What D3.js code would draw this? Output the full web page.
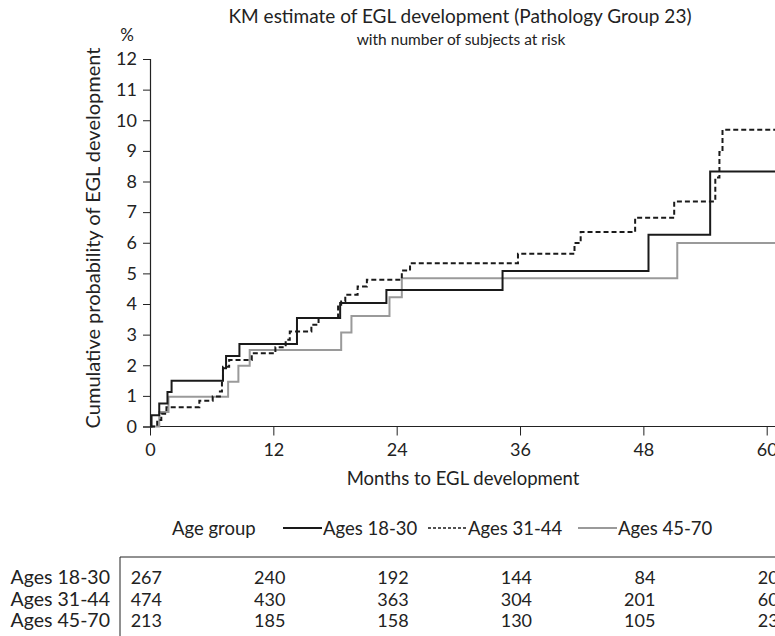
<!DOCTYPE html>
<html>
<head>
<meta charset="utf-8">
<script src="https://cdn.jsdelivr.net/npm/d3@7/dist/d3.min.js"></script>
<style>
  html, body { margin: 0; padding: 0; background: #fff; }
  svg { display: block; }
  text { font-family: "Lato", "Open Sans", sans-serif; fill: #222; }
</style>
</head>
<body>
<svg id="chart" width="775" height="636"></svg>
<script>
// ---- data ----
const seriesNames = ["Ages 18-30", "Ages 31-44", "Ages 45-70"];

const months18 = [0, 0.15, 0.9, 1.7, 2.1, 7.1, 7.4, 8.7, 14.3, 18.5, 23.0, 34.3, 48.5, 54.5, 62];
const cum18    = [0, 0.37, 0.75, 1.13, 1.49, 1.90, 2.30, 2.69, 3.54, 4.03, 4.46, 5.08, 6.26, 8.33, 8.33];

const months31 = [0, 0.7, 1.1, 1.6, 4.8, 6.1, 6.8, 7.0, 7.1, 7.7, 9.9, 12.2, 13.2, 13.6, 15.7, 16.4, 18.3, 18.6, 19.0, 20.2, 21.1, 24.5, 25.3, 35.8, 41.3, 41.9, 47.2, 51.0, 55.0, 55.4, 55.7, 62];
const cum31    = [0, 0.21, 0.42, 0.63, 0.84, 0.98, 1.14, 1.55, 1.95, 2.17, 2.39, 2.59, 2.83, 3.10, 3.32, 3.54, 3.92, 4.08, 4.30, 4.57, 4.79, 5.09, 5.33, 5.64, 5.99, 6.35, 6.82, 7.35, 8.13, 8.96, 9.69, 9.69];

const months45 = [0, 0.9, 1.8, 7.6, 8.6, 9.7, 18.6, 19.6, 23.3, 24.5, 51.3, 62];
const cum45    = [0, 0.47, 0.97, 1.46, 1.98, 2.50, 3.07, 3.61, 4.22, 4.84, 5.99, 5.99];

const xTicks = [0, 12, 24, 36, 48, 60];
const yTicks = [0, 1, 2, 3, 4, 5, 6, 7, 8, 9, 10, 11, 12];

const atRisk18 = [267, 240, 192, 144, 84, 20];
const atRisk31 = [474, 430, 363, 304, 201, 60];
const atRisk45 = [213, 185, 158, 130, 105, 23];

// ---- layout ----
const svg = d3.select("#chart");
const x = d3.scaleLinear().domain([0, 60]).range([150, 766.7]);
const y = d3.scaleLinear().domain([0, 12]).range([426.5, 59]);

const styles = [
  { stroke: "#1a1a1a", dash: null },
  { stroke: "#1a1a1a", dash: "5,3" },
  { stroke: "#9a9a9a", dash: null }
];

// titles
svg.append("text").attr("x", 460).attr("y", 23).attr("text-anchor", "middle")
  .style("font-size", "19px").text("KM estimate of EGL development (Pathology Group 23)");
svg.append("text").attr("x", 461).attr("y", 45).attr("text-anchor", "middle")
  .style("font-size", "15.5px").text("with number of subjects at risk");

// y axis
const yAxis = d3.axisLeft(y).tickValues(yTicks).tickSize(7).tickPadding(6).tickFormat(d3.format("d"));
const gy = svg.append("g").attr("transform", `translate(${x(0)},0)`).call(yAxis);
gy.select(".domain").attr("stroke", "#222").attr("stroke-width", 1.2);
gy.selectAll(".tick line").attr("stroke", "#222");
gy.selectAll(".tick text").style("font-size", "18px").style("font-family", "Lato, sans-serif").attr("fill", "#222");
svg.append("text").attr("x", 127).attr("y", 41).attr("text-anchor", "middle")
  .style("font-size", "17px").text("%");
svg.append("text").attr("transform", `translate(100,238) rotate(-90)`)
  .attr("text-anchor", "middle").style("font-size", "20px")
  .text("Cumulative probability of EGL development");

// x axis
const xAxis = d3.axisBottom(x).tickValues(xTicks).tickSize(9).tickPadding(8).tickSizeOuter(0);
const gx = svg.append("g").attr("transform", `translate(0,${y(0)})`).call(xAxis);
gx.select(".domain").remove();
gx.selectAll(".tick line").attr("stroke", "#222");
gx.selectAll(".tick text").style("font-size", "18px").style("font-family", "Lato, sans-serif").attr("fill", "#222");
svg.append("line").attr("x1", x(0)).attr("x2", x(63)).attr("y1", y(0)).attr("y2", y(0))
  .attr("stroke", "#222").attr("stroke-width", 1.2);
svg.append("text").attr("x", 463).attr("y", 485).attr("text-anchor", "middle")
  .style("font-size", "18.5px").text("Months to EGL development");

// curves
const line = d3.line().curve(d3.curveStepAfter).x(d => x(d[0])).y(d => y(d[1]));
const seriesData = [
  d3.zip(months18, cum18),
  d3.zip(months31, cum31),
  d3.zip(months45, cum45)
];
[2, 1, 0].forEach(i => {
  svg.append("path").datum(seriesData[i]).attr("d", line)
    .attr("fill", "none").attr("stroke", styles[i].stroke).attr("stroke-width", 2)
    .attr("stroke-dasharray", styles[i].dash);
});

// legend
const legY = 528;
svg.append("text").attr("x", 172).attr("y", legY + 7).style("font-size", "18.5px").text("Age group");
const legStarts = [283, 428, 578];
seriesNames.forEach((name, i) => {
  svg.append("line").attr("x1", legStarts[i]).attr("x2", legStarts[i] + 39)
    .attr("y1", legY).attr("y2", legY)
    .attr("stroke", styles[i].stroke).attr("stroke-width", i === 1 ? 1.5 : 2)
    .attr("stroke-dasharray", i === 1 ? "3,2" : null);
  svg.append("text").attr("x", legStarts[i] + 40).attr("y", legY + 7)
    .style("font-size", "18.5px").text(name);
});

// at-risk table
const tableTop = 557;
svg.append("line").attr("x1", 120).attr("x2", 780).attr("y1", tableTop).attr("y2", tableTop)
  .attr("stroke", "#222").attr("stroke-width", 1);
svg.append("line").attr("x1", 120).attr("x2", 120).attr("y1", tableTop).attr("y2", 640)
  .attr("stroke", "#222").attr("stroke-width", 1);
const rows = [atRisk18, atRisk31, atRisk45];
const rowY = d3.scalePoint().domain(seriesNames).range([584, 627]);
seriesNames.forEach((name, r) => {
  svg.append("text").attr("x", 110).attr("y", rowY(name)).attr("text-anchor", "end")
    .style("font-size", "19.5px").text(name);
  rows[r].forEach((v, c) => {
    svg.append("text").attr("x", x(xTicks[c]) + 12).attr("y", rowY(name))
      .attr("text-anchor", "end").style("font-size", "18px").text(v);
  });
});
</script>
</body>
</html>
